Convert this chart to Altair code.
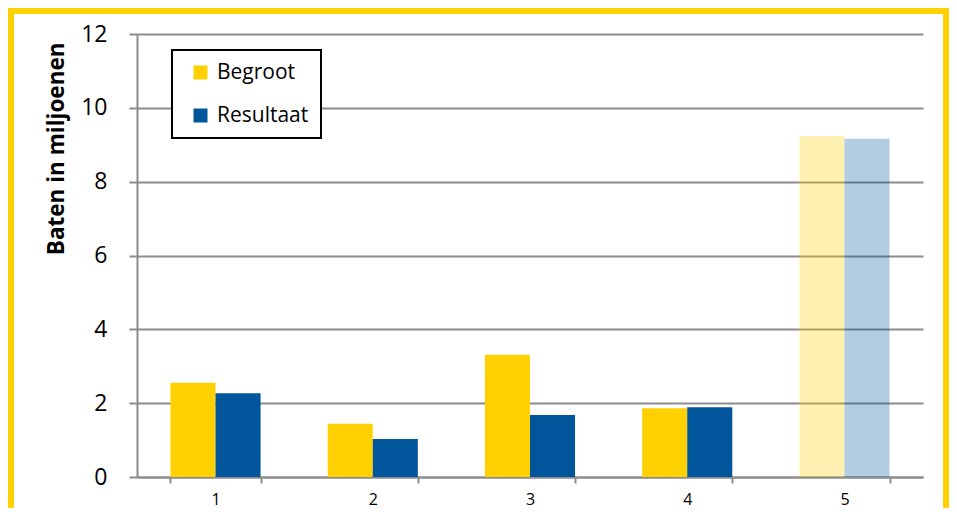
import altair as alt
import pandas as pd

categories = ["1", "2", "3", "4", "5"]
begroot = [2.55, 1.44, 3.31, 1.86, 9.24]
resultaat = [2.27, 1.03, 1.68, 1.89, 9.16]
series = ["Begroot", "Resultaat"]
colors = ["#FFD100", "#00559B"]

rows = []
for c, b, r in zip(categories, begroot, resultaat):
    rows.append({"cat": c, "serie": "Begroot", "val": b})
    rows.append({"cat": c, "serie": "Resultaat", "val": r})
df = pd.DataFrame(rows)

FONT = "Open Sans"
W, H = 786, 443
PL, PT, PR, PB = 129, 26, 26, 31

bars = alt.Chart(df).mark_bar().encode(
    x=alt.X("cat:N", sort=categories,
            scale=alt.Scale(paddingInner=0.427, paddingOuter=0.213),
            axis=alt.Axis(title=None, labelAngle=0, tickBand="extent", tickSize=6,
                          labelPadding=8, labelFontSize=16, grid=False,
                          domainColor="#8c8c8c", tickColor="#8c8c8c",
                          domainWidth=2, tickWidth=2)),
    xOffset=alt.XOffset("serie:N", sort=series, scale=alt.Scale(paddingInner=0)),
    y=alt.Y("val:Q", scale=alt.Scale(domain=[0, 12]),
            axis=alt.Axis(title="Baten in miljoenen", values=[0, 2, 4, 6, 8, 10, 12],
                          tickSize=8, labelPadding=22, labelFontSize=23,
                          titleFontSize=22.5, titleFontWeight="bold", titlePadding=12,
                          titleAnchor="end", titleY=8,
                          gridColor="#8c8c8c", gridWidth=2,
                          domainColor="#8c8c8c", tickColor="#8c8c8c",
                          domainWidth=2, tickWidth=2)),
    color=alt.Color("serie:N", sort=series,
                    scale=alt.Scale(domain=series, range=colors),
                    legend=alt.Legend(title=None, orient="none", legendX=35, legendY=16,
                                      fillColor="white", strokeColor="black",
                                      padding=12, symbolType="square", symbolSize=196,
                                      labelFontSize=21, rowPadding=21, symbolOffset=6,
                                      labelOffset=6, symbolStrokeWidth=0)),
    opacity=alt.condition("datum.cat == '5'", alt.value(0.3), alt.value(1.0)),
)

border = alt.Chart(pd.DataFrame({"k": [0]})).mark_rect(
    filled=False, stroke="#FFD100", strokeWidth=12, clip=False
).encode(
    x=alt.value(-PL), x2=alt.value(W + PR),
    y=alt.value(-PT), y2=alt.value(H + PB + 30),
)

chart = alt.layer(bars, border).properties(
    width=W, height=H,
    autosize=alt.AutoSizeParams(type="none"),
    padding={"left": PL, "top": PT, "right": PR, "bottom": PB},
    background="white",
).configure_view(strokeWidth=0).configure_axis(
    labelFont=FONT, titleFont=FONT, labelColor="black", titleColor="black"
).configure_legend(labelFont=FONT, labelColor="black", strokeWidth=2)

chart.save("out.html", embed_options={"renderer": "svg", "actions": False})
